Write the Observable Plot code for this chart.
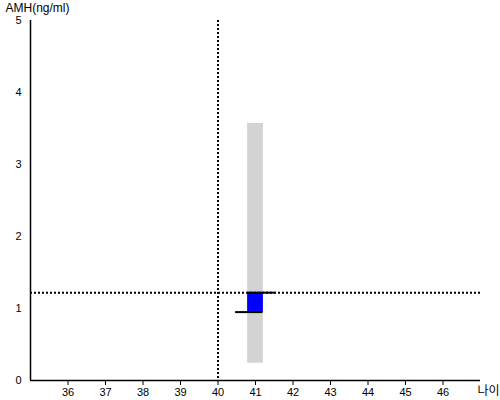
<!DOCTYPE html>
<html><head><meta charset="utf-8">
<script src="https://cdn.jsdelivr.net/npm/d3@7"></script>
<script src="https://cdn.jsdelivr.net/npm/@observablehq/plot@0.6"></script>
<style>body{margin:0;background:#fff;font-family:"Liberation Sans",Arial,sans-serif;}</style>
</head><body><div id="chart"></div>
<script>
const ages = [41];
const rangeLow = [0.24];
const rangeHigh = [3.57];
const valueLow = [0.95];
const valueHigh = [1.22];
const segX1 = [40.47, 40.79];
const segX2 = [41.2, 41.55];
const segY = [0.95, 1.22];
const refAge = [40];
const refAMH = [1.22];
const xTicks = [36, 37, 38, 39, 40, 41, 42, 43, 44, 45, 46];
const yTicks = [0, 1, 2, 3, 4, 5];

const half = 0.21;
const bars = ages.map((a, i) => ({x1: a - half, x2: a + half, lo: rangeLow[i], hi: rangeHigh[i], vlo: valueLow[i], vhi: valueHigh[i]}));
const segs = segY.map((y, i) => ({x1: segX1[i], x2: segX2[i], y}));

const chart = Plot.plot({
  width: 500, height: 400,
  marginLeft: 30, marginTop: 20, marginBottom: 20, marginRight: 20,
  style: {fontFamily: "Liberation Sans, Arial, sans-serif", fontSize: "11px", color: "#000"},
  x: {domain: [35, 47], label: null},
  y: {domain: [0, 5], label: null},
  marks: [
    Plot.rect(bars, {x1: "x1", x2: "x2", y1: "lo", y2: "hi", fill: "#d3d3d3"}),
    Plot.rect(bars, {x1: "x1", x2: "x2", y1: "vlo", y2: "vhi", fill: "#0000ff"}),
    Plot.ruleX(refAge, {stroke: "#000", strokeWidth: 2, strokeDasharray: "2,2"}),
    Plot.ruleY(refAMH, {stroke: "#000", strokeWidth: 2, strokeDasharray: "2,2"}),
    Plot.ruleY(segs, {x1: "x1", x2: "x2", y: "y", stroke: "#000", strokeWidth: 2}),
    Plot.ruleX([35], {stroke: "#000", strokeWidth: 1.5}),
    Plot.ruleY([0], {stroke: "#000", strokeWidth: 1.5}),
    Plot.axisX(xTicks, {tickSize: 5, tickPadding: 3, label: null, fill: "#000", tickFormat: "d"}),
    Plot.axisY(yTicks, {tickSize: 0, tickPadding: 9, label: null, fill: "#000", tickFormat: "d"}),
    Plot.text(["AMH(ng/ml)"], {frameAnchor: "top-left", dx: -25, dy: -9, textAnchor: "start", lineAnchor: "bottom", fontSize: 12, fill: "#000"}),
    Plot.text(["나이"], {frameAnchor: "bottom-right", dx: 19, dy: 11, textAnchor: "end", lineAnchor: "middle", fontSize: 12, fill: "#000", fontFamily: "Noto Sans CJK KR"})
  ]
});
document.getElementById("chart").appendChild(chart);
</script>
</body></html>
